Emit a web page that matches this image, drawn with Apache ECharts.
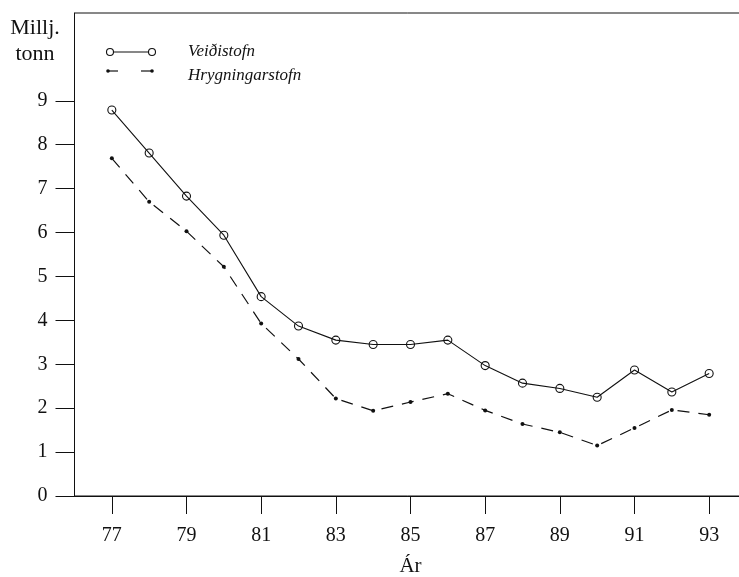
<!DOCTYPE html>
<html>
<head>
<meta charset="utf-8">
<script src="https://cdn.jsdelivr.net/npm/echarts@6/dist/echarts.min.js"></script>
<style>
html,body{margin:0;padding:0;background:#fff;}
#c{width:739px;height:577px;}
</style>
</head>
<body>
<div id="c"></div>
<script>
const years = [77,78,79,80,81,82,83,84,85,86,87,88,89,90,91,92,93];
const veidistofn = [8.79,7.81,6.83,5.94,4.54,3.87,3.55,3.45,3.45,3.55,2.97,2.57,2.45,2.25,2.87,2.37,2.79];
const hrygningarstofn = [7.69,6.70,6.03,5.22,3.93,3.12,2.22,1.94,2.14,2.33,1.95,1.64,1.45,1.15,1.55,1.96,1.85];
const xTickLabels = [77,79,81,83,85,87,89,91,93];
const yTickLabels = [0,1,2,3,4,5,6,7,8,9];
const seriesNames = ['Veiðistofn','Hrygningarstofn'];
const yTitle = ['Millj.','tonn'];
const xTitle = 'Ár';

const FONT = '"Liberation Serif","DejaVu Serif",serif';
const chart = echarts.init(document.getElementById('c'), null, {renderer:'canvas'});

const pair = arr => years.map((y,i)=>[y,arr[i]]);

chart.setOption({
  backgroundColor:'#fff',
  animation:false,
  grid:{left:74.5, top:13, width:672, bottom:81, outerBoundsMode:'none', containLabel:false, show:true, borderColor:'#111', borderWidth:1, backgroundColor:'transparent'},
  xAxis:{
    type:'value', min:76, max:94,
    name:xTitle, nameLocation:'middle', nameGap:60,
    nameTextStyle:{fontFamily:FONT, fontSize:21, color:'#111'},
    axisLine:{show:true, lineStyle:{color:'#111', width:1}},
    axisTick:{show:true, customValues:xTickLabels, length:18, lineStyle:{color:'#111', width:1}},
    axisLabel:{customValues:xTickLabels, margin:30, fontFamily:FONT, fontSize:20, color:'#111'},
    splitLine:{show:false}
  },
  yAxis:{
    type:'value', min:0, max:11,
    axisLine:{show:true, lineStyle:{color:'#111', width:1}},
    axisTick:{show:true, customValues:yTickLabels, length:19, lineStyle:{color:'#111', width:1}},
    axisLabel:{customValues:yTickLabels, margin:27, fontFamily:FONT, fontSize:20, color:'#111'},
    splitLine:{show:false}
  },
  series:[
    {
      name:seriesNames[0], type:'line', data:pair(veidistofn),
      symbol:'circle', symbolSize:8, showSymbol:true,
      lineStyle:{color:'#111', width:1.1},
      itemStyle:{color:'rgba(0,0,0,0)', borderColor:'#111', borderWidth:1.1}
    },
    {
      name:seriesNames[1], type:'line', data:pair(hrygningarstofn),
      symbol:'circle', symbolSize:4, showSymbol:true,
      lineStyle:{color:'#111', width:1.2, type:[12,9]},
      itemStyle:{color:'#111'}
    }
  ],
  graphic:[
    {type:'text', x:35, y:15, style:{text:yTitle.join('\n'), fontFamily:FONT, fontSize:22, lineHeight:26, fill:'#111', align:'center', verticalAlign:'top'}},
    {type:'line', shape:{x1:110, y1:52, x2:152, y2:52}, style:{stroke:'#111', lineWidth:1.1}},
    {type:'circle', shape:{cx:110, cy:52, r:3.5}, style:{fill:'#fff', stroke:'#111', lineWidth:1.1}},
    {type:'circle', shape:{cx:152, cy:52, r:3.5}, style:{fill:'#fff', stroke:'#111', lineWidth:1.1}},
    {type:'text', x:188, y:52, style:{text:seriesNames[0], fontFamily:FONT, fontStyle:'italic', fontSize:17, fill:'#111', verticalAlign:'middle'}},
    {type:'line', shape:{x1:108, y1:71, x2:118, y2:71}, style:{stroke:'#111', lineWidth:1.2}},
    {type:'line', shape:{x1:141, y1:71, x2:152, y2:71}, style:{stroke:'#111', lineWidth:1.2}},
    {type:'circle', shape:{cx:108, cy:71, r:1.8}, style:{fill:'#111'}},
    {type:'circle', shape:{cx:152, cy:71, r:1.8}, style:{fill:'#111'}},
    {type:'text', x:188, y:76, style:{text:seriesNames[1], fontFamily:FONT, fontStyle:'italic', fontSize:17, fill:'#111', verticalAlign:'middle'}}
  ]
});
</script>
</body>
</html>
